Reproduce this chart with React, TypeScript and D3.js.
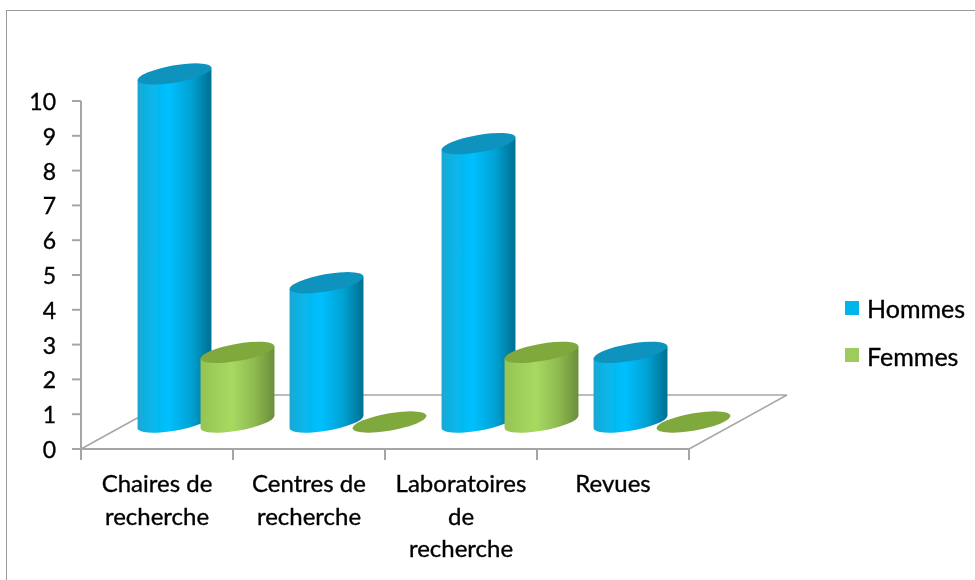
import React from "react";
import * as d3 from "d3";

const categories = ["Chaires de recherche", "Centres de recherche", "Laboratoires de recherche", "Revues"];
const categoryLines = [["Chaires de", "recherche"], ["Centres de", "recherche"], ["Laboratoires", "de", "recherche"], ["Revues"]];
const seriesNames = ["Hommes", "Femmes"];
const hommes = [10, 4, 8, 2];
const femmes = [2, 0, 2, 0];
const yTicks = [0, 1, 2, 3, 4, 5, 6, 7, 8, 9, 10];

const W = 975, H = 580;
const FONT = "Lato, 'Open Sans', sans-serif";
const x0 = 81, x1 = 689, yBase = 449, yTop = 101;
const depthX = 98, depthY = 54;
const floorY = 422;
const rx = 37.5, ry = 8.6, rot = -10;

const x = d3.scaleBand<string>().domain(categories).range([x0, x1]);
const inner = d3.scaleOrdinal<string, number>().domain(seriesNames).range([93.5, 156.5]);
const y = d3.scaleLinear().domain([0, 10]).range([yBase, yTop]);
const unit = y(0) - y(1);

function Cylinder({ cx, v, kind }: { cx: number; v: number; kind: string }) {
  const a = (rot * Math.PI) / 180;
  const t = Math.atan2(-ry * Math.sin(a), rx * Math.cos(a));
  const ex = rx * Math.cos(t) * Math.cos(a) - ry * Math.sin(t) * Math.sin(a);
  const ey = rx * Math.cos(t) * Math.sin(a) + ry * Math.sin(t) * Math.cos(a);
  const yb = floorY;
  const yt = floorY - v * unit;
  const top = kind === "Hommes" ? "#0b93bd" : "#7fa83c";
  const grad = kind === "Hommes" ? "url(#gBlue)" : "url(#gGreen)";
  const side = `M${cx - ex},${yt - ey} L${cx + ex},${yt + ey} L${cx + ex},${yb + ey} A${rx},${ry} ${rot} 0 1 ${cx - ex},${yb - ey} Z`;
  return (
    <g>
      {v > 0 && <path d={side} fill={grad} />}
      <ellipse cx={cx} cy={yt} rx={rx} ry={ry} transform={`rotate(${rot} ${cx} ${yt})`} fill={top} />
    </g>
  );
}

export default function App() {
  const axisColor = "#a6a6a6";
  const bw = x.bandwidth();
  return (
    <svg width={W} height={H} style={{ position: "absolute", left: 0, top: 0, background: "#fff" }} fontFamily={FONT}>
      <defs>
        <linearGradient id="gBlue" x1="0" x2="1" y1="0" y2="0">
          <stop offset="0" stopColor="#1ba8d4" />
          <stop offset="0.12" stopColor="#0cb2e2" />
          <stop offset="0.42" stopColor="#00c0ff" />
          <stop offset="0.72" stopColor="#00a2d4" />
          <stop offset="1" stopColor="#006f91" />
        </linearGradient>
        <linearGradient id="gGreen" x1="0" x2="1" y1="0" y2="0">
          <stop offset="0" stopColor="#96c355" />
          <stop offset="0.42" stopColor="#a8da62" />
          <stop offset="0.72" stopColor="#8fbb50" />
          <stop offset="1" stopColor="#6a8f3a" />
        </linearGradient>
        <filter id="soft" x="-2%" y="-2%" width="104%" height="104%">
          <feGaussianBlur stdDeviation="0.4" />
        </filter>
      </defs>
      <rect x={6.5} y={10.5} width={W} height={H} fill="#fff" stroke="#9a9a9a" />

      <g filter="url(#soft)">
        <g fill="none" stroke={axisColor} strokeWidth={1.5}>
          <path d={`M${x0},${yBase} L${x0 + depthX},${yBase - depthY} L${x1 + depthX},${yBase - depthY} L${x1},${yBase}`} />
        </g>
        <g stroke={axisColor} strokeWidth={2} fill="none">
          <line x1={x0} x2={x0} y1={yTop} y2={yBase} />
          <line x1={x0} x2={x1} y1={yBase} y2={yBase} />
          {yTicks.map((t) => (
            <line key={t} x1={x0 - 9} x2={x0} y1={y(t)} y2={y(t)} />
          ))}
          {[...categories.map((c) => x(c)!), x1].map((p, i) => (
            <line key={i} x1={p} x2={p} y1={yBase} y2={yBase + 11} />
          ))}
        </g>

        {categories.map((c, i) => (
          <g key={c}>
            <Cylinder cx={x(c)! + inner("Hommes")} v={hommes[i]} kind="Hommes" />
            <Cylinder cx={x(c)! + inner("Femmes")} v={femmes[i]} kind="Femmes" />
          </g>
        ))}

        <g stroke="#000" strokeWidth={0.35} fill="#000">
          {yTicks.map((t) => (
            <text key={t} x={56} y={y(t) + 9} textAnchor="end" fontSize={23}>{t}</text>
          ))}

          {categories.map((c, i) => (
            <text key={c} textAnchor="middle" fontSize={24}>
              {categoryLines[i].map((l, j) => (
                <tspan key={j} x={x(c)! + bw / 2} y={492 + j * 32.5}>{l}</tspan>
              ))}
            </text>
          ))}

          {seriesNames.map((s, i) => (
            <text key={s} x={867} y={318 + i * 47.5} fontSize={25}>{s}</text>
          ))}
        </g>

        {seriesNames.map((s, i) => (
          <rect key={s} x={845} y={301 + i * 47} width={14} height={14} fill={i === 0 ? "#00b4ec" : "#9dcc5c"} />
        ))}
      </g>
    </svg>
  );
}
